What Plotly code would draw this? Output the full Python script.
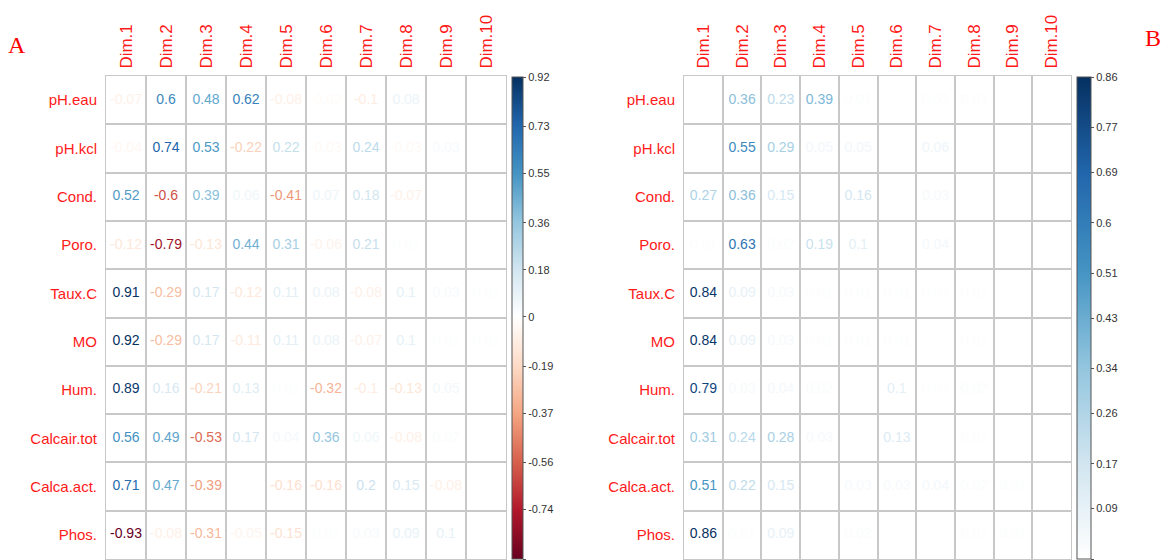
import plotly.graph_objects as go
from plotly.colors import sample_colorscale

dims = ["Dim.1", "Dim.2", "Dim.3", "Dim.4", "Dim.5", "Dim.6", "Dim.7", "Dim.8", "Dim.9", "Dim.10"]
variables = ["pH.eau", "pH.kcl", "Cond.", "Poro.", "Taux.C", "MO", "Hum.", "Calcair.tot", "Calca.act.", "Phos."]

# Panel A: correlations of variables with dimensions
cor_ph_eau = [-0.07, 0.6, 0.48, 0.62, -0.08, -0.02, -0.1, 0.08, 0.0, 0.0]
cor_ph_kcl = [-0.04, 0.74, 0.53, -0.22, 0.22, -0.03, 0.24, -0.03, 0.03, 0.0]
cor_cond = [0.52, -0.6, 0.39, 0.06, -0.41, 0.07, 0.18, -0.07, 0.0, 0.0]
cor_poro = [-0.12, -0.79, -0.13, 0.44, 0.31, -0.06, 0.21, 0.01, 0.0, 0.0]
cor_taux_c = [0.91, -0.29, 0.17, -0.12, 0.11, 0.08, -0.08, 0.1, 0.03, 0.01]
cor_mo = [0.92, -0.29, 0.17, -0.11, 0.11, 0.08, -0.07, 0.1, 0.01, 0.01]
cor_hum = [0.89, 0.16, -0.21, 0.13, 0.01, -0.32, -0.1, -0.13, 0.05, 0.0]
cor_calcair_tot = [0.56, 0.49, -0.53, 0.17, 0.04, 0.36, 0.06, -0.08, 0.02, 0.0]
cor_calca_act = [0.71, 0.47, -0.39, 0.0, -0.16, -0.16, 0.2, 0.15, -0.08, 0.0]
cor_phos = [-0.93, -0.08, -0.31, -0.05, -0.15, 0.01, 0.03, 0.09, 0.1, 0.0]

# Panel B: cos2 of variables on dimensions
cos_ph_eau = [0.0, 0.36, 0.23, 0.39, 0.01, 0.0, 0.01, 0.01, 0.0, 0.0]
cos_ph_kcl = [0.0, 0.55, 0.29, 0.05, 0.05, 0.0, 0.06, 0.0, 0.0, 0.0]
cos_cond = [0.27, 0.36, 0.15, 0.0, 0.16, 0.0, 0.03, 0.0, 0.0, 0.0]
cos_poro = [0.01, 0.63, 0.02, 0.19, 0.1, 0.0, 0.04, 0.0, 0.0, 0.0]
cos_taux_c = [0.84, 0.09, 0.03, 0.01, 0.01, 0.01, 0.01, 0.01, 0.0, 0.0]
cos_mo = [0.84, 0.09, 0.03, 0.01, 0.01, 0.01, 0.0, 0.01, 0.0, 0.0]
cos_hum = [0.79, 0.03, 0.04, 0.02, 0.0, 0.1, 0.01, 0.02, 0.0, 0.0]
cos_calcair_tot = [0.31, 0.24, 0.28, 0.03, 0.0, 0.13, 0.0, 0.01, 0.0, 0.0]
cos_calca_act = [0.51, 0.22, 0.15, 0.0, 0.03, 0.03, 0.04, 0.02, 0.01, 0.0]
cos_phos = [0.86, 0.01, 0.09, 0.0, 0.02, 0.0, 0.0, 0.01, 0.01, 0.0]

cbar_a_ticks = [-0.93, -0.74, -0.56, -0.37, -0.19, 0, 0.18, 0.36, 0.55, 0.73, 0.92]
cbar_b_ticks = [0, 0.09, 0.17, 0.26, 0.34, 0.43, 0.51, 0.6, 0.69, 0.77, 0.86]

cor_rows = [cor_ph_eau, cor_ph_kcl, cor_cond, cor_poro, cor_taux_c, cor_mo, cor_hum,
            cor_calcair_tot, cor_calca_act, cor_phos]
cos_rows = [cos_ph_eau, cos_ph_kcl, cos_cond, cos_poro, cos_taux_c, cos_mo, cos_hum,
            cos_calcair_tot, cos_calca_act, cos_phos]

W, H = 1162, 560
RD = ["#67001F", "#B2182B", "#D6604D", "#F4A582", "#FDDBC7", "#FFFFFF"]
BU = ["#FFFFFF", "#D1E5F0", "#92C5DE", "#4393C3", "#2166AC", "#053061"]


def hex2rgb(h):
    h = h.lstrip("#")
    return "rgb(%d,%d,%d)" % (int(h[0:2], 16), int(h[2:4], 16), int(h[4:6], 16))


amin, amax = min(cbar_a_ticks), max(cbar_a_ticks)
p0 = (0 - amin) / (amax - amin)
cs_a = [[p0 * k / 5, hex2rgb(c)] for k, c in enumerate(RD)]
cs_a += [[p0 + (1 - p0) * k / 5, hex2rgb(c)] for k, c in enumerate(BU) if k > 0]
bmin, bmax = min(cbar_b_ticks), max(cbar_b_ticks)
cs_b = [[k / 5, hex2rgb(c)] for k, c in enumerate(BU)]

FONT = "Arial, Liberation Sans, sans-serif"
RED = "#FF1A1A"


def fmt(v):
    s = ("%.2f" % round(v, 2)).rstrip("0").rstrip(".")
    return "0" if s in ("-0", "") else s


def panel(rows, cs, vmin, vmax, xa, ya, cb_x, cb_thick, ticks):
    xs, ys, vals = [], [], []
    for i, row in enumerate(rows):
        for j, v in enumerate(row):
            xs.append(j + 1)
            ys.append(i + 1)
            vals.append(v)
    norm = [min(max((v - vmin) / (vmax - vmin), 0), 1) for v in vals]
    cols = sample_colorscale(cs, norm)
    return go.Scatter(
        x=xs, y=ys, xaxis=xa, yaxis=ya, mode="markers+text",
        text=[fmt(v) for v in vals],
        textposition="middle center",
        textfont=dict(color=cols, size=14, family=FONT),
        hoverinfo="skip",
        marker=dict(
            color=vals, colorscale=cs, cmin=vmin, cmax=vmax, size=1, opacity=0,
            showscale=True,
            colorbar=dict(
                x=cb_x / W, xanchor="left", xpad=0, ypad=0,
                y=1 - (77 + 559) / 2 / H, yanchor="middle",
                len=(559 - 77) / H, lenmode="fraction",
                thickness=cb_thick, outlinewidth=1, outlinecolor="#555555",
                tickmode="array", tickvals=ticks, ticktext=[fmt(t) for t in ticks],
                ticks="outside", ticklen=3, tickcolor="#555555",
                tickfont=dict(size=11, color="#333333", family=FONT),
            ),
        ),
        showlegend=False,
    )


fig = go.Figure()
fig.add_trace(panel(cor_rows, cs_a, amin, amax, "x", "y", 512, 11, cbar_a_ticks))
fig.add_trace(panel(cos_rows, cs_b, bmin, bmax, "x2", "y2", 1077, 14, cbar_b_ticks))

GRID = "#C8C8C8"
pos = list(range(1, len(dims) + 1))
minor_vals = [p - 0.5 for p in pos] + [len(dims) + 0.5]


def xaxis(d0, d1, anchor):
    return dict(
        domain=[d0 / W, d1 / W], range=[0.5, len(dims) + 0.5], anchor=anchor,
        side="top", tickmode="array", tickvals=pos, ticktext=dims, tickangle=-90,
        tickfont=dict(color=RED, size=17, family=FONT), showgrid=False, zeroline=False,
        ticks="outside", ticklen=3, tickcolor="rgba(0,0,0,0)",
        showline=True, mirror=True, linecolor=GRID, linewidth=1,
        minor=dict(tickmode="array", tickvals=minor_vals, showgrid=True,
                   gridcolor=GRID, gridwidth=1.5, ticks=""),
        fixedrange=True,
    )


def yaxis(anchor):
    return dict(
        domain=[1 - 559 / H, 1 - 76 / H], range=[len(variables) + 0.5, 0.5], anchor=anchor,
        tickmode="array", tickvals=pos, ticktext=variables,
        tickfont=dict(color=RED, size=15, family=FONT), showgrid=False, zeroline=False,
        ticks="outside", ticklen=5, tickcolor="rgba(0,0,0,0)",
        showline=True, mirror=True, linecolor=GRID, linewidth=1,
        minor=dict(tickmode="array", tickvals=minor_vals, showgrid=True,
                   gridcolor=GRID, gridwidth=1.5, ticks=""),
        fixedrange=True,
    )


LETTER_FONT = dict(family="Liberation Serif, Times New Roman, serif", size=24, color="#FF0000")
fig.update_layout(
    width=W, height=H, margin=dict(l=0, r=0, t=0, b=0),
    paper_bgcolor="white", plot_bgcolor="white",
    xaxis=xaxis(106, 506, "y"), yaxis=yaxis("x"),
    xaxis2=xaxis(684, 1071, "y2"), yaxis2=yaxis("x2"),
    annotations=[
        dict(text="A", x=17 / W, y=1 - 45 / H, xref="paper", yref="paper",
             xanchor="center", yanchor="middle", showarrow=False, font=LETTER_FONT),
        dict(text="B", x=1153 / W, y=1 - 38 / H, xref="paper", yref="paper",
             xanchor="center", yanchor="middle", showarrow=False, font=LETTER_FONT),
    ],
)

fig.write_html(
    "out.html",
    config={"displayModeBar": False},
    post_script="document.body.style.margin='0';document.body.style.padding='0';",
)
